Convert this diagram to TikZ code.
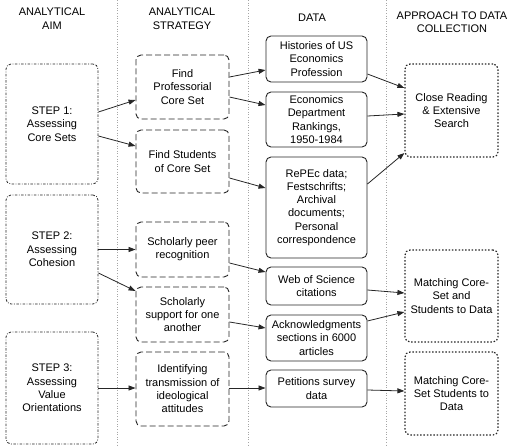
\documentclass[tikz,border=0pt]{standalone}
\usepackage{fontspec}
\setmainfont{Liberation Sans}
\usetikzlibrary{arrows.meta}
\tikzset{
  base/.style={rounded corners=5pt, draw=black!85, line width=0.9pt, align=center,
    inner sep=1pt, font=\fontsize{11}{13.3}\selectfont},
  aimbox/.style={base, dash pattern=on 2.5pt off 1.5pt on 0.8pt off 1.5pt, line width=0.8pt, minimum width=92pt},
  stratbox/.style={base, dash pattern=on 6pt off 3pt, minimum width=93pt},
  databox/.style={base, minimum width=101pt},
  appbox/.style={base, dash pattern=on 1.5pt off 1.8pt, line width=1.2pt, minimum width=93pt},
  hdr/.style={align=center, font=\fontsize{11}{13.5}\selectfont},
  sep/.style={draw=black!35, dotted, line width=0.6pt},
  arr/.style={draw=black!85, line width=0.8pt, -{Triangle[length=7pt,width=5pt]}},
}
\begin{document}
\begin{tikzpicture}[x=1pt,y=-1pt]
\useasboundingbox (0,0) rectangle (520,447);
% column separators
\coordinate (t1) at (117,0); \coordinate (b1) at (117,447);
\coordinate (t2) at (248,0); \coordinate (b2) at (248,447);
\coordinate (t3) at (386,0); \coordinate (b3) at (386,447);
\draw[sep] (t1) -- (b1);
\draw[sep] (t2) -- (b2);
\draw[sep] (t3) -- (b3);
% headers
\node[hdr] (h1) at (52,18.5) {ANALYTICAL\\AIM};
\node[hdr] (h2) at (182,18.5) {ANALYTICAL\\STRATEGY};
\node[hdr] (h3) at (312,18) {DATA};
\node[hdr] (h4) at (452,22) {APPROACH TO DATA\\COLLECTION};
% aim
\node[aimbox, minimum height=120pt] (s1) at (52,124) {STEP 1:\\Assessing\\Core Sets};
\node[aimbox, minimum height=109pt] (s2) at (52,249.5) {STEP 2:\\Assessing\\Cohesion};
\node[aimbox, minimum height=112pt] (s3) at (52,388) {STEP 3:\\Assessing\\Value\\Orientations};
% strategy
\node[stratbox, minimum height=64pt] (fp) at (182.5,87) {Find\\Professorial\\Core Set};
\node[stratbox, minimum height=63pt] (fs) at (182.5,161.5) {Find Students\\of Core Set};
\node[stratbox, minimum height=55pt] (peer) at (182.5,249.5) {Scholarly peer\\recognition};
\node[stratbox, minimum height=55pt] (sup) at (182.5,314.5) {Scholarly\\support for one\\another};
\node[stratbox, minimum height=74pt] (ident) at (182.5,389) {Identifying\\transmission of\\ideological\\attitudes};
% data
\node[databox, minimum height=46pt] (hist) at (316.5,59) {Histories of US\\Economics\\Profession};
\node[databox, minimum height=55pt] (econ) at (316.5,119.5) {Economics\\Department\\Rankings,\\1950-1984};
\node[databox, minimum height=101pt] (repec) at (316.5,207.5) {RePEc data;\\Festschrifts;\\Archival\\documents;\\Personal\\correspondence};
\node[databox, minimum height=38pt] (wos) at (316.5,286) {Web of Science\\citations};
\node[databox, minimum height=46pt] (ack) at (316.5,338) {Acknowledgments\\sections in 6000\\articles};
\node[databox, minimum height=37pt] (pet) at (316.5,388.5) {Petitions survey\\data};
% approach
\node[appbox, minimum height=93pt] (close) at (451.5,110.5) {Close Reading\\\& Extensive\\Search};
\node[appbox, minimum height=92pt] (m1) at (451.5,296) {Matching Core-\\Set and\\Students to Data};
\node[appbox, minimum height=83pt] (m2) at (451.5,393.5) {Matching Core-\\Set Students to\\Data};
% arrows
\draw[arr] ([yshift=12pt]s1.east) -- ([yshift=-13pt]fp.west);
\draw[arr] ([yshift=-12pt]s1.east) -- ([yshift=15.5pt]fs.west);
\draw[arr] ([yshift=10pt]fp.east) -- ([yshift=-11pt]hist.west);
\draw[arr] ([yshift=-10pt]fp.east) -- ([yshift=14.5pt]econ.west);
\draw[arr] ([yshift=-16.5pt]fs.east) -- ([yshift=19.5pt]repec.west);
\draw[arr] ([yshift=-15pt]hist.east) -- ([yshift=22.5pt]close.west);
\draw[arr] ([yshift=3.5pt]econ.east) -- ([yshift=-3.5pt]close.west);
\draw[arr] ([yshift=23.5pt]repec.east) -- ([yshift=-42.5pt]close.west);
\draw[arr] (s2.east) -- (peer.west);
\draw[arr] ([yshift=-23.5pt]s2.east) -- ([yshift=23.5pt]sup.west);
\draw[arr] ([yshift=-13.5pt]peer.east) -- ([yshift=14pt]wos.west);
\draw[arr] ([yshift=-7.5pt]sup.east) -- ([yshift=10pt]ack.west);
\draw[arr] (s3.east) -- ([yshift=1pt]ident.west);
\draw[arr] ([yshift=1pt]ident.east) -- ([yshift=0.5pt]pet.west);
\draw[arr] ([yshift=-4pt]wos.east) -- ([yshift=3pt]m1.west);
\draw[arr] ([yshift=17pt]ack.east) -- ([yshift=-16pt]m1.west);
\draw[arr] ([yshift=-1.5pt]pet.east) -- ([yshift=2.5pt]m2.west);
\end{tikzpicture}
\end{document}
